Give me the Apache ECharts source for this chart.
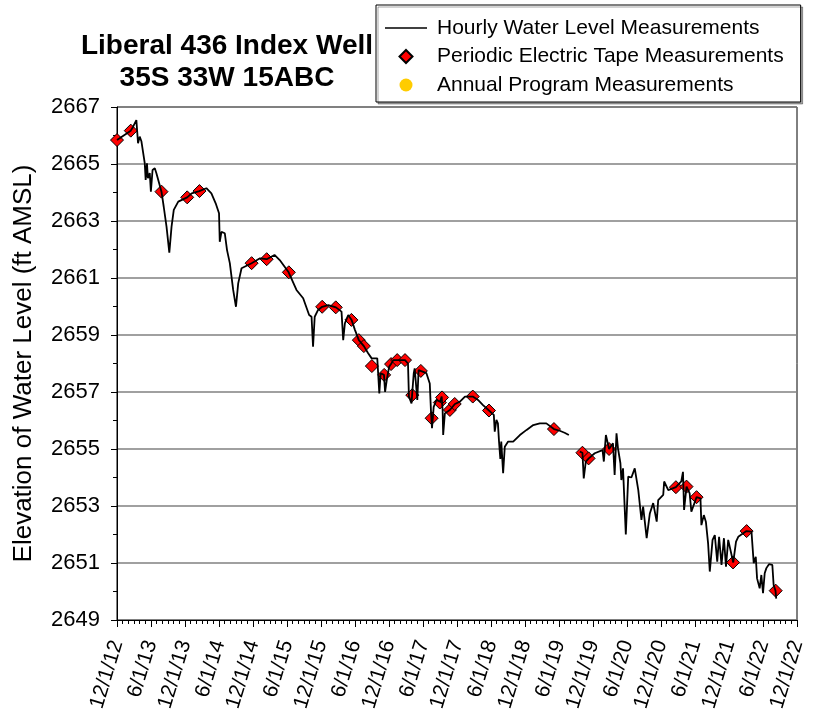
<!DOCTYPE html>
<html>
<head>
<meta charset="utf-8">
<title>Liberal 436 Index Well</title>
<script src="https://cdn.jsdelivr.net/npm/echarts@6/dist/echarts.min.js"></script>
<style>
  html, body { margin: 0; padding: 0; background: #fff; }
  #chart { width: 822px; height: 715px; }
</style>
</head>
<body>
<div id="chart"></div>
<script>
// hourly transducer record (null = gap in record)
const hourlyDates = [
  '2012-12-01', '2013-02-13', '2013-02-25', '2013-03-15', '2013-03-24', '2013-04-02', '2013-04-11', '2013-04-20',
  '2013-04-29', '2013-05-04', '2013-05-11', '2013-05-16', '2013-05-26', '2013-06-01', '2013-06-10', '2013-06-22',
  '2013-07-01', '2013-07-28', '2013-08-09', '2013-08-24', '2013-09-08', '2013-09-20', '2013-10-02', '2013-10-26',
  '2013-12-13', '2014-01-06', '2014-02-16', '2014-03-26', '2014-04-22', '2014-05-15', '2014-06-02', '2014-06-06',
  '2014-06-15', '2014-07-03', '2014-07-15', '2014-07-30', '2014-08-17', '2014-09-01', '2014-09-13', '2014-10-01',
  '2014-11-24', '2015-01-08', '2015-02-13', '2015-03-27', '2015-04-24', '2015-06-11', '2015-07-23', '2015-08-28',
  '2015-09-29', '2015-10-12', '2015-10-20', '2015-10-29', '2015-11-16', '2015-12-08', '2016-01-10', '2016-02-20',
  '2016-03-21', '2016-03-30', '2016-04-08', '2016-04-26', '2016-05-14', '2016-06-01', '2016-06-22', '2016-07-19',
  '2016-08-11', '2016-08-30', '2016-09-29', '2016-10-10', '2016-10-17', '2016-11-04', '2016-11-10', '2016-11-19',
  '2016-12-02', '2016-12-12', '2016-12-24', '2017-01-15', '2017-02-25', '2017-03-13', '2017-03-18', '2017-04-01',
  '2017-04-04', '2017-04-13', '2017-04-18', '2017-04-27', '2017-05-02', '2017-05-09', '2017-05-20', '2017-06-20',
  '2017-07-08', '2017-07-15', '2017-07-20', '2017-07-29', '2017-08-13', '2017-09-01', '2017-09-10', '2017-09-15',
  '2017-09-18', '2017-09-27', '2017-10-24', '2017-11-20', '2017-12-17', '2018-01-13', '2018-02-24', '2018-03-24',
  '2018-04-20', '2018-05-22', '2018-06-17', '2018-06-22', '2018-07-01', '2018-07-09', '2018-07-15', '2018-07-22',
  '2018-07-27', '2018-08-06', '2018-08-15', '2018-09-02', '2018-09-29', '2018-11-04', '2018-12-10', '2019-01-15',
  '2019-02-19', '2019-03-26', '2019-05-06', '2019-06-06', '2019-07-02', '2019-07-25', '2019-08-24', '2019-09-22',
  '2019-10-06', '2019-10-13', '2019-10-24', '2019-11-09', '2019-12-11', '2020-01-22', '2020-01-29', '2020-02-09',
  '2020-02-26', '2020-03-18', '2020-03-27', '2020-04-06', '2020-04-14', '2020-04-27', '2020-05-02', '2020-05-11',
  '2020-05-26', '2020-06-08', '2020-06-25', '2020-07-13', '2020-08-01', '2020-08-18', '2020-08-27', '2020-09-15',
  '2020-10-02', '2020-10-20', '2020-11-08', '2020-11-16', '2020-12-13', '2020-12-18', '2021-01-09', '2021-02-19',
  '2021-03-20', '2021-03-29', '2021-04-04', '2021-04-17', '2021-05-04', '2021-05-13', '2021-06-10', '2021-07-01',
  '2021-07-06', '2021-07-19', '2021-07-30', '2021-08-11', '2021-08-20', '2021-09-04', '2021-09-16', '2021-09-29',
  '2021-10-09', '2021-10-22', '2021-11-04', '2021-11-15', '2021-11-27', '2021-12-24', '2022-01-08', '2022-01-20',
  '2022-03-05', '2022-04-01', '2022-04-13', '2022-04-24', '2022-05-01', '2022-05-15', '2022-05-24', '2022-06-02',
  '2022-06-11', '2022-06-20', '2022-07-04', '2022-07-22', '2022-07-29', '2022-08-08', '2022-08-12'
]
const hourlyLevels = [
  2665.84, 2666.17, 2666.30, 2666.54, 2665.73, 2665.96, 2665.80, 2665.84,
  2665.03, 2664.44, 2665.02, 2664.50, 2664.68, 2664.03, 2664.79, 2664.85,
  2664.67, 2664.03, 2663.50, 2662.80, 2661.89, 2662.80, 2663.39, 2663.68,
  2663.83, 2663.97, 2664.05, 2664.15, 2663.97, 2663.62, 2663.27, 2662.27,
  2662.62, 2662.57, 2661.98, 2661.52, 2660.58, 2659.99, 2660.81, 2661.34,
  2661.52, 2661.69, 2661.66, 2661.81, 2661.63, 2661.20, 2660.58, 2660.29,
  2659.70, 2659.64, 2658.59, 2659.64, 2659.88, 2659.99, 2660.05, 2659.97,
  2659.82, 2658.82, 2659.41, 2659.70, 2659.53, 2659.18, 2658.82, 2658.61,
  2658.36, 2658.18, 2658.18, 2656.95, 2657.66, 2657.60, 2657.00, 2657.42,
  2657.89, 2657.98, 2658.12, 2658.12, 2658.12, 2658.00, 2656.84, 2656.60,
  2656.89, 2657.66, 2657.83, 2657.77, 2656.72, 2657.77, 2657.74, 2657.66,
  2657.30, 2656.25, 2655.73, 2656.48, 2656.72, 2656.66, 2656.84, 2656.37,
  2655.49, 2656.25, 2656.37, 2656.58, 2656.66, 2656.84, 2656.84, 2656.72,
  2656.54, 2656.35, 2656.20, 2655.61, 2656.02, 2655.90, 2655.26, 2654.65,
  2655.26, 2654.15, 2655.08, 2655.26, 2655.26, 2655.49, 2655.67, 2655.84,
  2655.90, 2655.90, 2655.70, 2655.64, 2655.57, 2655.49, null, 2654.91,
  2654.87, 2653.97, 2654.56, 2654.67, 2654.85, 2654.96, 2654.56, 2655.49,
  2655.00, 2655.20, 2654.09, 2655.55, 2655.02, 2654.50, 2653.91, 2654.32,
  2652.00, 2654.03, 2654.00, 2654.32, 2653.56, 2652.51, 2652.98, 2651.87,
  2652.74, 2653.10, 2652.45, 2653.21, 2653.39, 2653.86, 2653.56, 2653.66,
  2653.86, 2654.20, 2652.86, 2653.68, 2653.44, 2652.80, 2653.31, 2653.27,
  2652.33, 2652.68, 2652.45, 2651.69, 2650.70, 2651.81, 2651.98, 2651.05,
  2651.92, 2650.93, 2651.87, 2650.87, 2651.81, 2651.02, 2651.75, 2651.92,
  2652.12, 2652.10, 2650.99, 2651.22, 2650.46, 2650.11, 2650.58, 2649.94,
  2650.64, 2650.82, 2650.96, 2650.93, 2650.23, 2650.03, 2649.75
]

// periodic electric tape readings
const tapeDates = [
  '2012-12-01', '2013-02-13', '2013-07-28', '2013-12-13', '2014-02-17', '2014-11-24', '2015-02-13', '2015-06-12',
  '2015-12-08', '2016-02-19', '2016-05-13', '2016-06-22', '2016-07-19', '2016-08-31', '2016-11-05', '2016-12-12',
  '2017-01-14', '2017-02-25', '2017-04-05', '2017-05-21', '2017-07-18', '2017-08-31', '2017-09-12', '2017-10-24',
  '2017-11-19', '2018-02-24', '2018-05-22', '2019-05-06', '2019-10-06', '2019-11-08', '2020-02-26', '2021-02-19',
  '2021-04-17', '2021-06-10', '2021-12-23', '2022-03-06', '2022-08-09'
]
const tapeLevels = [
  2665.84, 2666.17, 2664.03, 2663.83, 2664.05, 2661.52, 2661.66, 2661.20,
  2659.99, 2659.97, 2659.53, 2658.82, 2658.61, 2657.91, 2657.60, 2657.98,
  2658.12, 2658.12, 2656.89, 2657.74, 2656.08, 2656.63, 2656.81, 2656.37,
  2656.58, 2656.84, 2656.35, 2655.70, 2654.87, 2654.67, 2655.00, 2653.66,
  2653.68, 2653.31, 2651.02, 2652.12, 2650.03
]

// annual program: none in this period, only in the legend
const annualDates = []
const annualLevels = []

const yMin = 2649
const yMax = 2667
const yStep = 2

const FONT = 'Liberation Sans, Arial, sans-serif'
const DAY = 24 * 3600 * 1000
const HALF_YEAR = 182.625 * DAY
const X_MIN = Date.UTC(2012, 11, 1)
const X_MAX = X_MIN + 20 * HALF_YEAR

const toMs = d => Date.parse(d + 'T00:00:00Z')
const zip = (dates, vals) => dates.map((d, i) => [toMs(d), vals[i]])

// tick label like 12/1/12, snapped to nearest month start
function dateLabel (v) {
  const d = new Date(v + 15 * DAY)
  return (d.getUTCMonth() + 1) + '/1/' + String(d.getUTCFullYear()).slice(2)
}

const chart = echarts.init(document.getElementById('chart'))
chart.setOption({
  animation: false,
  textStyle: { fontFamily: FONT, color: '#000' },
  title: {
    text: 'Liberal 436 Index Well\n35S 33W 15ABC',
    left: 222,
    top: 25,
    textAlign: 'center',
    textStyle: { fontFamily: FONT, fontSize: 28, fontWeight: 'bold', lineHeight: 32, color: '#000' }
  },
  legend: {
    orient: 'vertical',
    left: 376,
    top: 5,
    padding: [11, 17, 5, 9],
    itemWidth: 42,
    itemHeight: 13,
    itemGap: 4.5,
    backgroundColor: '#fff',
    borderColor: '#000',
    borderWidth: 1,
    borderRadius: 0,
    shadowColor: 'rgba(0,0,0,0.35)',
    shadowOffsetX: 2,
    shadowOffsetY: 2,
    textStyle: { fontFamily: FONT, fontSize: 21, lineHeight: 24, color: '#000', padding: [0, 0, 0, 5] },
    data: [
      { name: 'Hourly Water Level Measurements', icon: 'path://M0,0H42V1.3H0Z' },
      { name: 'Periodic Electric Tape Measurements', icon: 'path://M0,-1L1,0L0,1L-1,0Z' },
      { name: 'Annual Program Measurements', icon: 'circle' }
    ]
  },
  grid: {
    left: 117,
    right: 25,
    top: 107,
    bottom: 95,
    show: true,
    borderColor: '#000',
    borderWidth: 1
  },
  xAxis: {
    type: 'value',
    min: X_MIN,
    max: X_MAX,
    interval: HALF_YEAR,
    axisLine: { onZero: false, lineStyle: { color: '#000', width: 1 } },
    axisTick: { length: 7, lineStyle: { color: '#000' } },
    minorTick: { show: true, splitNumber: 6, length: 4, lineStyle: { color: '#000' } },
    splitLine: { show: false },
    axisLabel: { rotate: 73, fontSize: 21, margin: 21, color: '#000', formatter: dateLabel }
  },
  yAxis: {
    type: 'value',
    min: yMin,
    max: yMax,
    interval: yStep,
    name: 'Elevation of Water Level (ft AMSL)',
    nameLocation: 'middle',
    nameGap: 80,
    nameTextStyle: { fontFamily: FONT, fontSize: 26, color: '#000' },
    axisLine: { show: true, lineStyle: { color: '#000', width: 1 } },
    axisTick: { show: true, length: 6, lineStyle: { color: '#000' } },
    minorTick: { show: true, splitNumber: 2, length: 4, lineStyle: { color: '#000' } },
    axisLabel: { fontSize: 22, margin: 17, color: '#000', formatter: v => String(v) },
    splitLine: { lineStyle: { color: '#808080', width: 1.5 } }
  },
  series: [
    {
      name: 'Hourly Water Level Measurements',
      type: 'line',
      data: zip(hourlyDates, hourlyLevels),
      symbol: 'none',
      connectNulls: false,
      lineStyle: { color: '#000', width: 1.8 },
      itemStyle: { color: '#000' }
    },
    {
      name: 'Periodic Electric Tape Measurements',
      type: 'scatter',
      data: zip(tapeDates, tapeLevels),
      symbol: 'diamond',
      symbolSize: 13,
      itemStyle: { color: '#ff0000', borderColor: '#000', borderWidth: 1, opacity: 1 }
    },
    {
      name: 'Annual Program Measurements',
      type: 'scatter',
      data: zip(annualDates, annualLevels),
      symbol: 'circle',
      symbolSize: 12,
      itemStyle: { color: '#ffcc00', opacity: 1 }
    }
  ]
})
</script>
</body>
</html>
